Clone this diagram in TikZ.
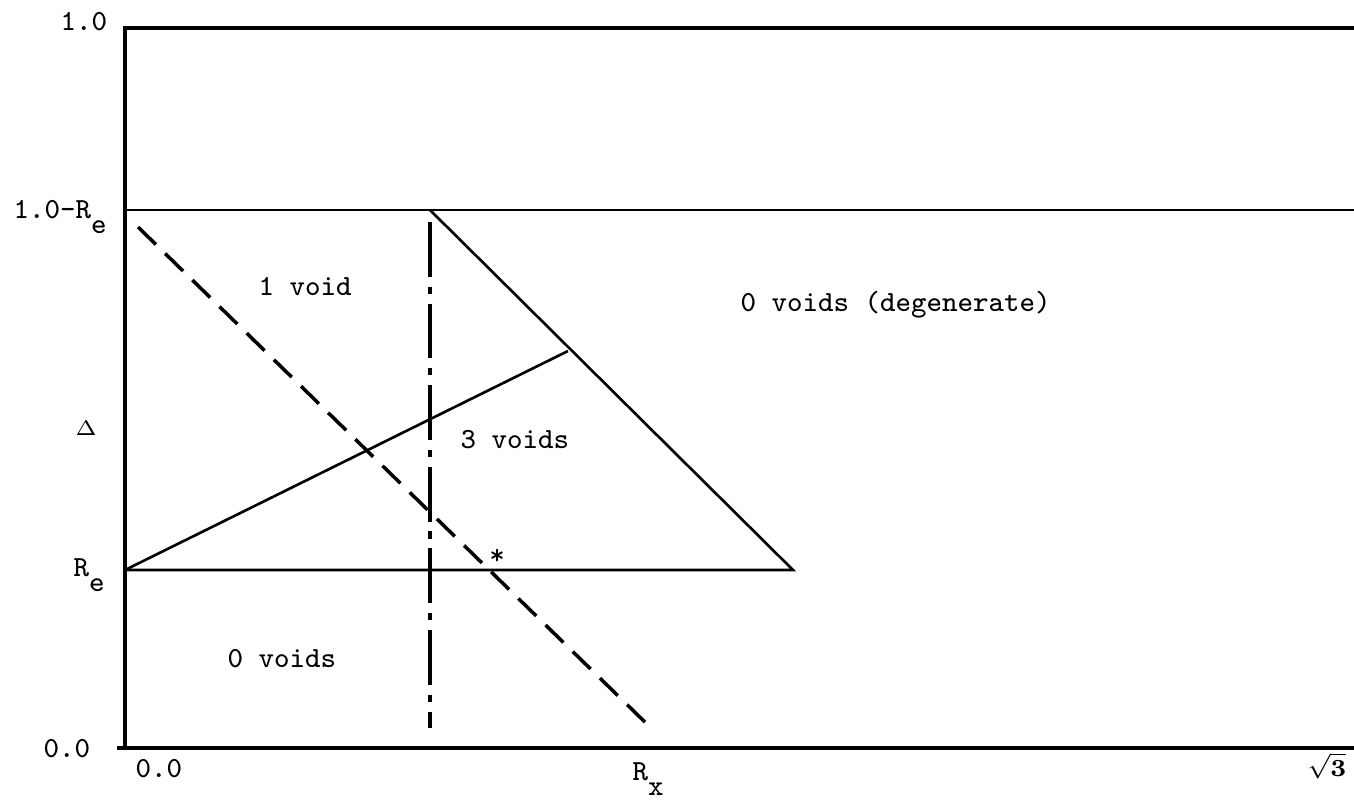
\documentclass[tikz,border=0pt]{standalone}
\newcommand{\sub}[1]{\raisebox{-0.52em}{#1}}
\begin{document}
\begin{tikzpicture}[x=0.01cm,y=-0.01cm,font=\fontsize{8.3}{10}\ttfamily,
  lbl/.style={anchor=base west,inner sep=0pt},
  axis/.style={line width=1.4pt},
  bound/.style={line width=0.75pt},
  dashdot/.style={line width=1.05pt,dash pattern=on 15.6pt off 2.8pt on 2pt off 2.8pt},
  dashline/.style={line width=1pt,dash pattern=on 7.1pt off 3.7pt}]
\useasboundingbox (0,0) rectangle (1354,799);
\coordinate (top) at (430,210); \coordinate (tip) at (793,570); \coordinate (apex) at (568,351); \coordinate (re) at (125,570);
\draw[axis] (1354,28)--(125,28)--(125,748);
\draw[axis] (117,748)--(1354,748);
\draw[bound] (125,210)--(1354,210);
\draw[bound] (re)--(tip)--(top);
\draw[bound] (re)--(apex);
\draw[dashdot] (430,222)--(430,728);
\draw[dashline] (138,227)--(650,727);
\foreach \x/\y/\t in {60/30/1.0,43/757/0.0,135/777/0.0,258/295/1 void,740/311/0 voids (degenerate),460/448/3 voids,227/667/0 voids}{\node[lbl] at (\x,\y) {\t};}
\node[lbl] (ltop) at (13,218) {1.0-R\sub{e}};
\node[lbl] (lre) at (73,576) {R\sub{e}};
\node[lbl] (lrx) at (632,780) {R\sub{x}};
\node[lbl,font=\fontsize{6.3}{8}\selectfont] (ldelta) at (75,435) {$\Delta$};
\node[anchor=base east,inner sep=0pt,font=\fontsize{6.8}{8}\selectfont] (lsqrt) at (1347,776) {$\sqrt{\mathbf{3}}$};
\node[anchor=base,inner sep=0pt] (star) at (497,564) {*};
\end{tikzpicture}
\end{document}
